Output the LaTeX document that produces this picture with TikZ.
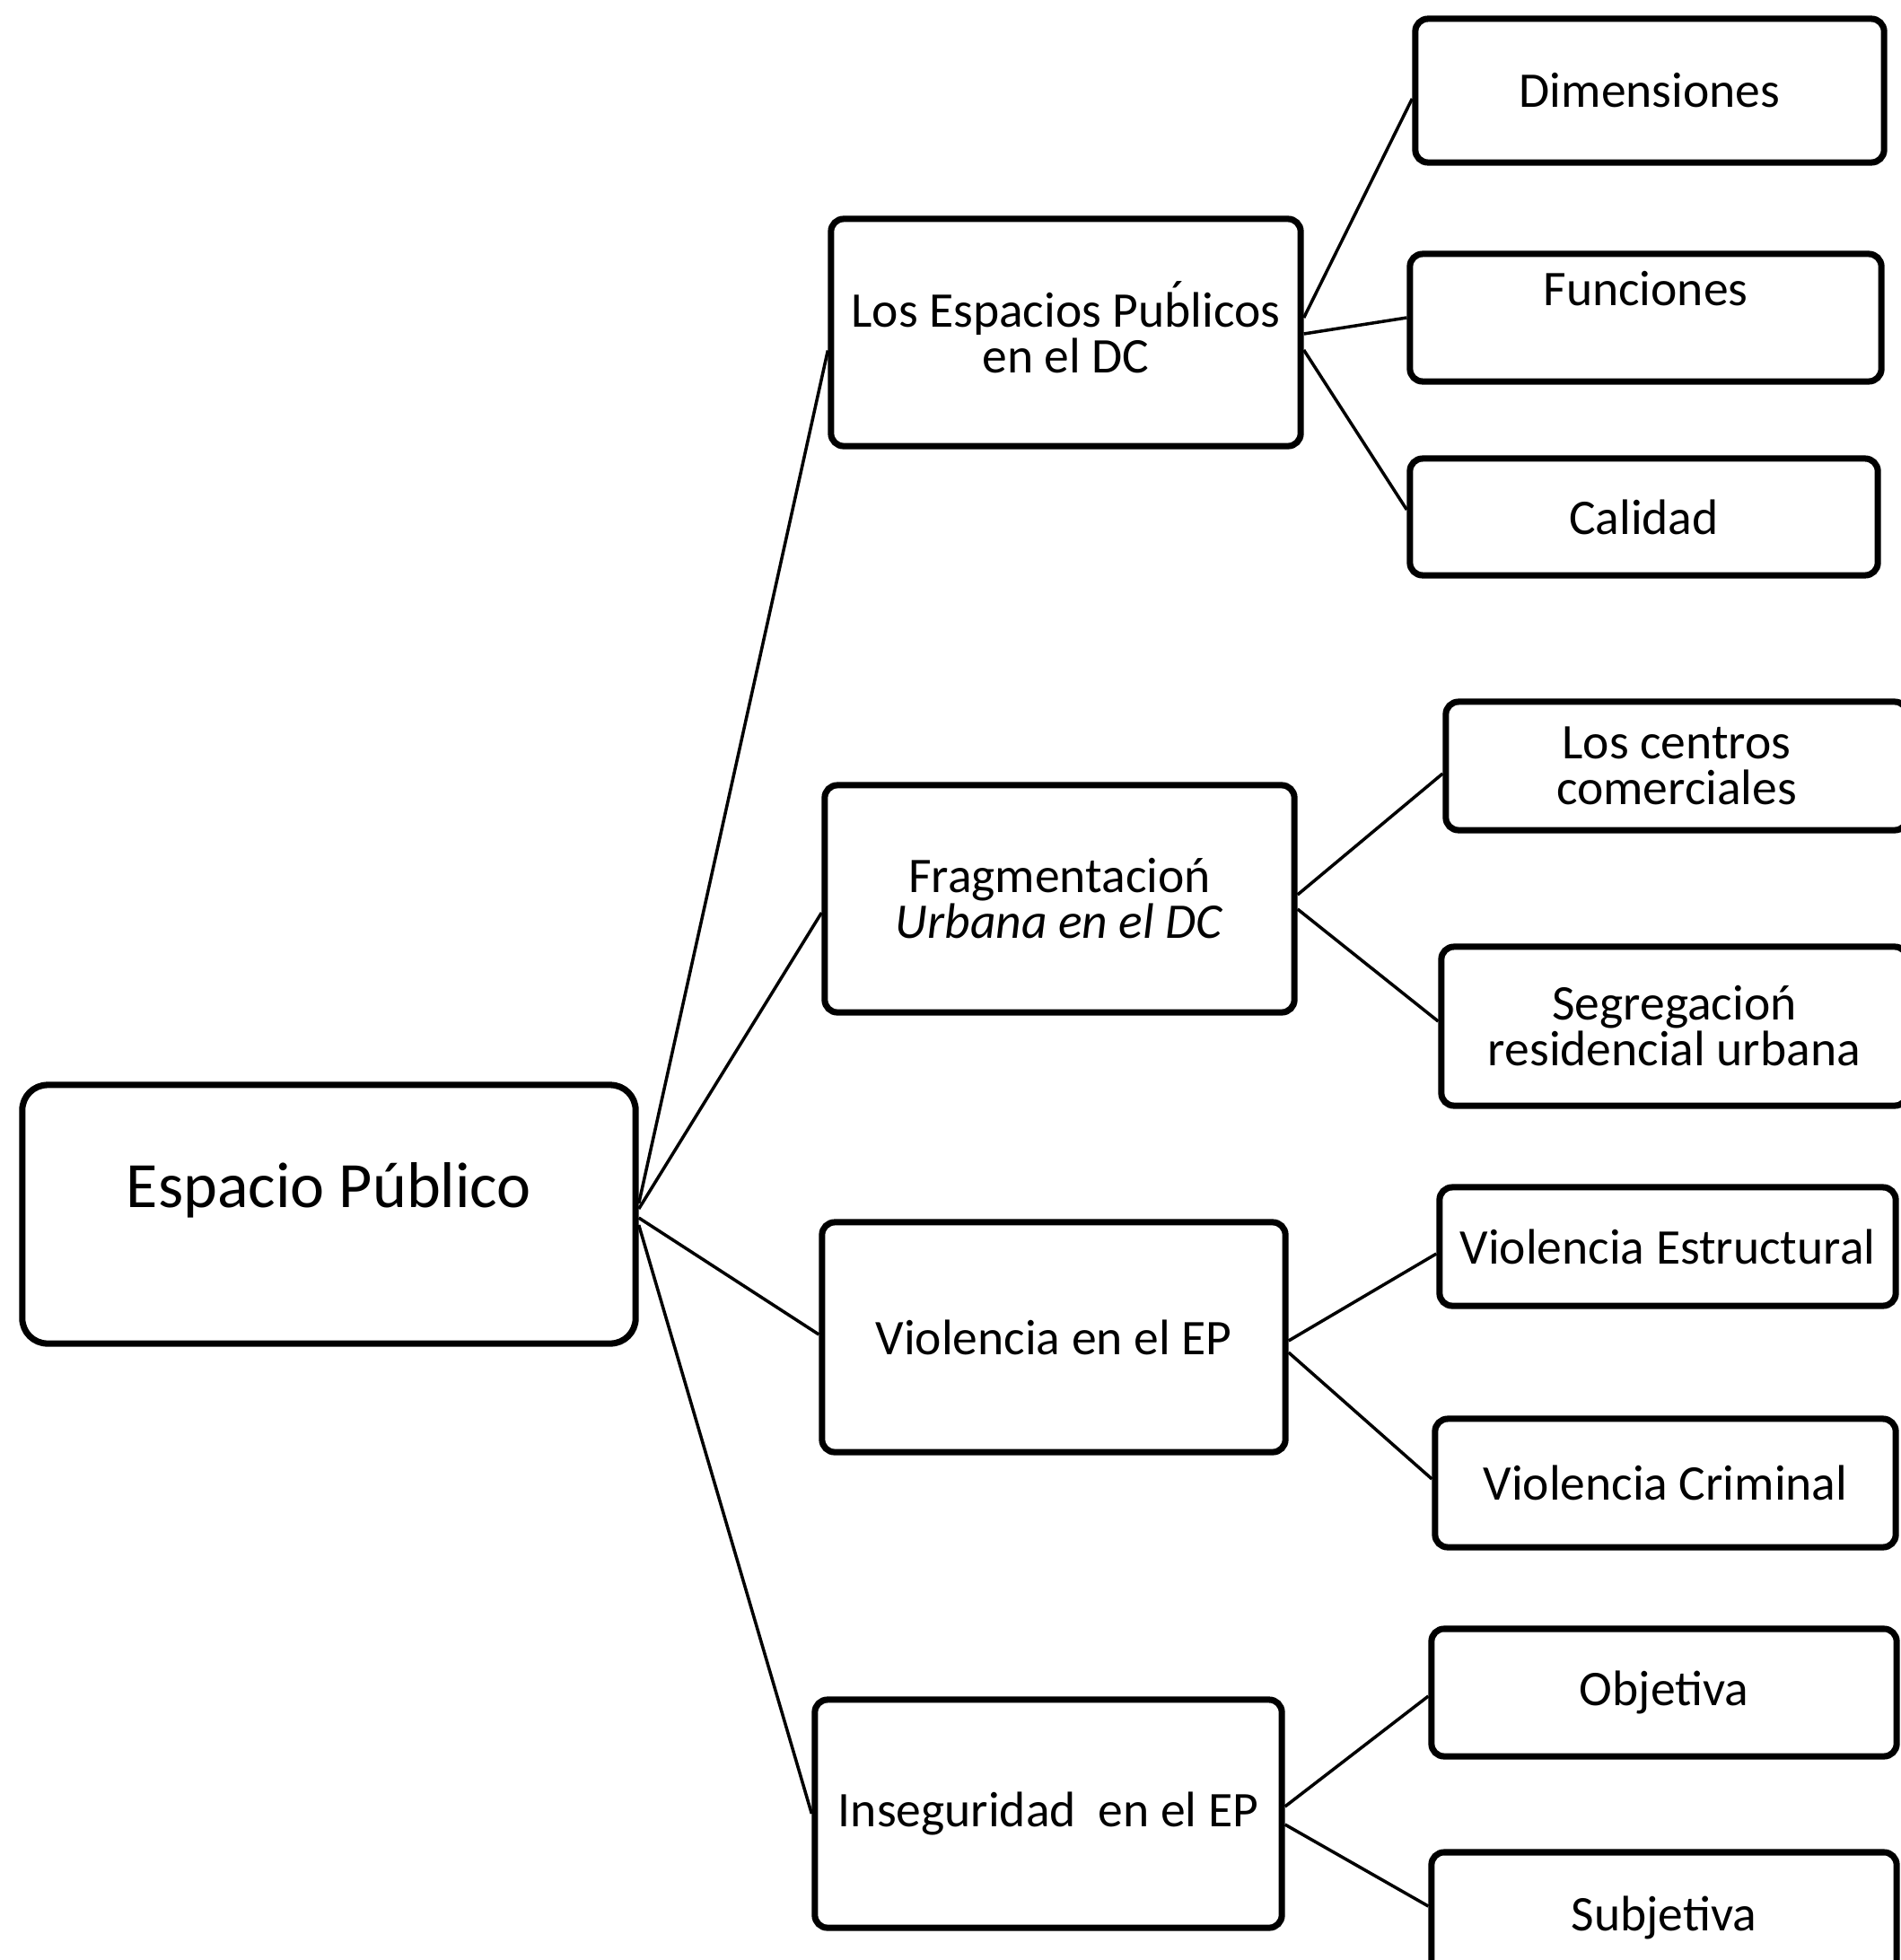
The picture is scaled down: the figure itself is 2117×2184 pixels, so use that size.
\documentclass[tikz,border=0pt]{standalone}
\usepackage{fontspec}
\setmainfont{Carlito}
\newcommand{\bacute}{\ooalign{b\cr\hidewidth\raisebox{0.22em}{´}\hidewidth\cr}}
\begin{document}
\begin{tikzpicture}[x=0.01cm,y=-0.01cm,
  box/.style={draw=black, line width=2pt, rounded corners=4pt, inner sep=0pt, align=center,
    font=\fontsize{15.8}{14.5}\selectfont},
  conn/.style={line width=1pt, draw=black}]
\useasboundingbox (0,0) rectangle (2117,2184);
% root
\node[box, rounded corners=8pt, minimum width=6.83cm, minimum height=2.88cm,
  label={[yshift=0.27cm, font=\fontsize{20.5}{20}\selectfont]center:Espacio Público}] (root) at (366.5,1353) {};
% level 2
\node[box, minimum width=5.23cm, minimum height=2.53cm] (b1) at (1187.5,370.5) {Los Espacios Pu\bacute licos\\en el DC};
\node[box, minimum width=5.23cm, minimum height=2.53cm] (b2) at (1180.5,1001.5) {Fragmentacioń\\\textit{Urbana en el DC}};
\node[box, minimum width=5.16cm, minimum height=2.56cm] (b3) at (1174,1490) {Violencia en el EP};
\node[box, minimum width=5.20cm, minimum height=2.54cm] (b4) at (1168,2021) {Inseguridad \ en el EP};
% level 3
\node[box, minimum width=5.22cm, minimum height=1.60cm] (c1) at (1838,101) {Dimensiones};
\node[box, minimum width=5.25cm, minimum height=1.42cm,
  label={[yshift=0.32cm, font=\fontsize{15.8}{14.5}\selectfont]center:Funciones}] (c2) at (1833.5,354) {};
\node[box, minimum width=5.21cm, minimum height=1.30cm] (c3) at (1831.5,576) {Calidad};
\node[box, minimum width=5.14cm, minimum height=1.43cm] (c4) at (1868,853.5) {Los centros\\comerciales};
\node[box, minimum width=5.19cm, minimum height=1.77cm] (c5) at (1865.5,1143.5) {Segregacioń\\residencial urbana};
\node[box, minimum width=5.08cm, minimum height=1.32cm] (c6) at (1858,1389) {Violencia Estructural};
\node[box, minimum width=5.13cm, minimum height=1.43cm] (c7) at (1855.5,1652.5) {Violencia Criminal};
\node[box, minimum width=5.18cm, minimum height=1.42cm] (c8) at (1854,1886) {Objetiva};
\node[box, minimum width=5.18cm, minimum height=1.46cm] (c9) at (1854,2137) {Subjetiva};
% connectors root -> level 2
\draw[conn] ([yshift=0.12cm]root.east) -- ([yshift=-0.20cm]b1.west);
\draw[conn] ([yshift=0.06cm]root.east) -- ([yshift=-0.155cm]b2.west);
\draw[conn] ([yshift=-0.04cm]root.east) -- ([yshift=0.03cm]b3.west);
\draw[conn] ([yshift=-0.12cm]root.east) -- (b4.west);
% level 2 -> level 3
\draw[conn] ([yshift=0.165cm]b1.east) -- ([yshift=-0.09cm]c1.west);
\draw[conn] ([yshift=-0.015cm]b1.east) -- (c2.west);
\draw[conn] ([yshift=-0.195cm]b1.east) -- ([yshift=0.08cm]c3.west);
\draw[conn] ([yshift=0.045cm]b2.east) -- ([yshift=-0.085cm]c4.west);
\draw[conn] ([yshift=-0.115cm]b2.east) -- ([yshift=0.055cm]c5.west);
\draw[conn] ([yshift=-0.04cm]b3.east) -- ([yshift=-0.08cm]c6.west);
\draw[conn] ([yshift=-0.17cm]b3.east) -- ([yshift=0.045cm]c7.west);
\draw[conn] ([yshift=0.08cm]b4.east) -- ([yshift=-0.04cm]c8.west);
\draw[conn] ([yshift=-0.12cm]b4.east) -- ([yshift=0.13cm]c9.west);
\end{tikzpicture}
\end{document}
